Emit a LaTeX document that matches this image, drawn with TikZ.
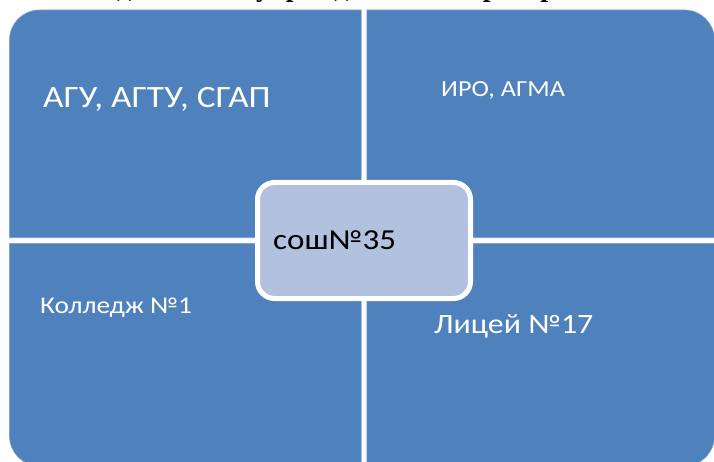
\documentclass[tikz,border=0pt]{standalone}
\usepackage{fontspec}
\setmainfont{Liberation Serif}
\newfontfamily\calfont[FakeStretch=1.14]{Carlito}
\definecolor{quadblue}{HTML}{4F81BD}
\definecolor{quadedge}{HTML}{7FA2CF}
\definecolor{centerfill}{HTML}{B2C2DE}
\begin{document}
\begin{tikzpicture}[x=1pt,y=1pt,
  quad/.style={fill=quadblue, draw=quadedge, line width=0.6pt},
  centerbox/.style={rectangle, rounded corners=17pt, fill=centerfill, draw=white, line width=5pt, inner sep=0pt},
  quadtext/.style={anchor=base west, inner sep=0pt, text=white, font=\calfont},
  centertext/.style={anchor=base west, inner sep=0pt, text=black, font=\calfont\fontsize{29}{29}\selectfont},
  titletext/.style={anchor=base west, inner sep=0pt, font=\bfseries\fontsize{28}{28}\selectfont}
]
\useasboundingbox (0,0) rectangle (714,461);
\fill[white] (0,0) rectangle (714,461);
% title (cut off at the top, as in the reference)
\node[titletext] (title) at (25,464) {Взаимодействие с учреждениями-партнерами};
% quadrants
\path[quad] (9.5,223.3) -- (9.5,421) arc[start angle=180,end angle=90,radius=30pt] -- (361.2,451) -- (361.2,223.3) -- cycle;
\path[quad] (366.8,451) -- (684.5,451) arc[start angle=90,end angle=0,radius=30pt] -- (714.5,223.3) -- (366.8,223.3) -- cycle;
\path[quad] (9.5,217.7) -- (9.5,25) arc[start angle=180,end angle=270,radius=30pt] -- (361.2,-5) -- (361.2,217.7) -- cycle;
\path[quad] (366.8,217.7) -- (714.5,217.7) -- (714.5,25) arc[start angle=0,end angle=-90,radius=30pt] -- (366.8,-5) -- cycle;
% quadrant labels
\node[quadtext, font=\calfont\fontsize{31}{31}\selectfont] (q1) at (43,353) {АГУ, АГТУ, СГАП};
\node[quadtext, font=\calfont\fontsize{23}{23}\selectfont] (q2) at (441,364) {ИРО, АГМА};
\node[quadtext, font=\calfont\fontsize{24}{24}\selectfont] (q3) at (40,148) {Колледж №1};
\node[quadtext, font=\calfont\fontsize{28}{28}\selectfont] (q4) at (434,128) {Лицей №17};
% center
\node[centerbox, minimum width=213pt, minimum height=116pt] (c) at (364,220.5) {};
\node[centertext] (ct) at (273,212) {сош№35};
\end{tikzpicture}
\end{document}
